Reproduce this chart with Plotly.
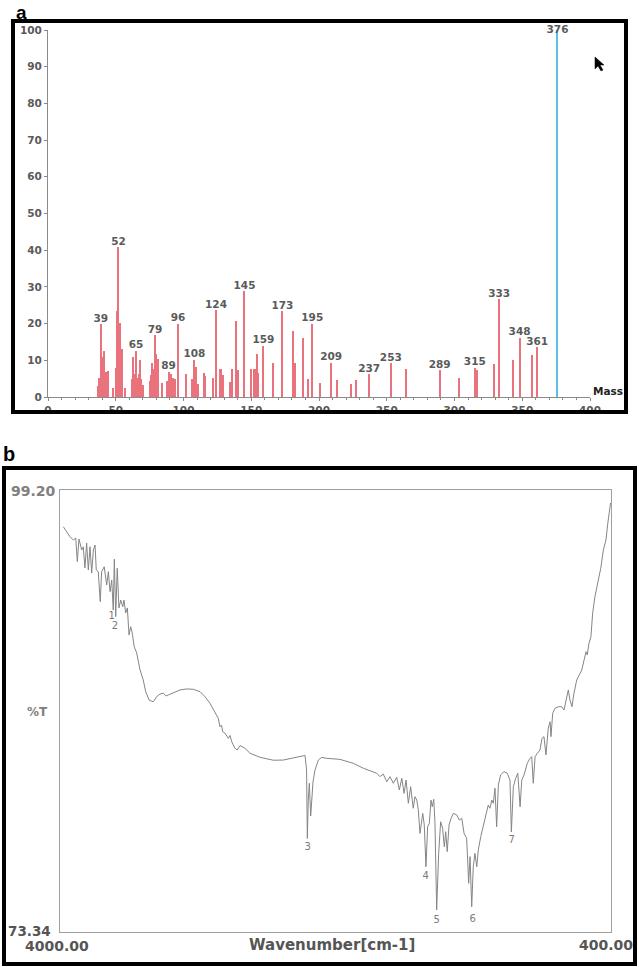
import plotly.graph_objects as go

W, H = 639, 967

# ---------------- Panel a : mass spectrum ----------------
ms_mass = [37, 38, 39, 40, 41, 42, 43, 44, 48, 50, 51, 52, 53, 54, 55, 57,
           62, 63, 64, 65, 66, 67, 68, 69, 70, 75, 76, 77, 78, 79, 80, 81,
           84, 88, 89, 91, 92, 94, 96, 102, 106, 108, 109, 111, 115, 116,
           122, 124, 127, 128, 129, 134, 136, 139, 140, 145, 150, 152, 153,
           154, 155, 159, 166, 173, 181, 182, 188, 192, 195, 201, 209, 213,
           224, 227, 237, 253, 264, 289, 303, 315, 317, 329, 333, 343, 348,
           357, 361]
ms_int = [2.9, 5.3, 19.8, 11.0, 12.4, 6.2, 6.8, 7.0, 2.5, 7.8, 23.3, 40.8, 20.1,
          6.0, 13.1, 2.5, 4.8, 11.0, 6.3, 12.5, 5.3, 6.2, 10.2, 4.9, 3.4, 4.3,
          6.0, 9.2, 7.7, 16.8, 11.6, 10.4, 3.8, 4.4, 6.8, 6.2, 5.2, 5.0, 19.9,
          6.4, 5.0, 10.2, 8.3, 3.6, 6.5, 5.6, 5.3, 23.6, 7.7, 7.7, 5.9, 4.1,
          7.7, 20.6, 7.4, 28.8, 7.5, 7.7, 7.7, 11.8, 6.6, 14.0, 9.2, 23.3, 18.1,
          9.2, 16.2, 4.8, 20.0, 3.8, 9.4, 4.5, 3.6, 4.5, 6.2, 9.2, 7.5, 7.3,
          5.1, 8.0, 7.3, 9.1, 26.6, 10.0, 16.1, 11.5, 13.5]
base_mass = [376]
base_int = [100]
label_mass = [39, 52, 65, 79, 89, 96, 108, 124, 145, 159, 173, 195, 209,
              237, 253, 289, 315, 333, 348, 361]
ms_x_ticks = [0, 50, 100, 150, 200, 250, 300, 350, 400]
ms_y_ticks = [0, 10, 20, 30, 40, 50, 60, 70, 80, 90, 100]

# ---------------- Panel b : IR spectrum ----------------
ir_wn = [3978, 3956, 3935, 3913, 3897, 3887, 3876, 3858, 3848, 3837, 3826, 3815,
         3804, 3793, 3782, 3771, 3763, 3750, 3737, 3728, 3711, 3695, 3684, 3673,
         3662, 3652, 3645, 3636, 3626, 3615, 3603, 3590, 3582, 3571, 3560, 3549,
         3538, 3528, 3515, 3499, 3477, 3456, 3440, 3418, 3390, 3368, 3347, 3325,
         3307, 3292, 3260, 3216, 3172, 3129, 3085, 3053, 3020, 2987, 2966, 2955,
         2945, 2937, 2922, 2900, 2889, 2878, 2857, 2842, 2824, 2791, 2759, 2693,
         2606, 2541, 2476, 2432, 2399, 2389, 2384, 2378, 2371, 2362, 2355, 2347,
         2334, 2312, 2290, 2257, 2171, 2084, 2018, 1975, 1931, 1909, 1888, 1865,
         1844, 1822, 1800, 1783, 1767, 1752, 1739, 1724, 1709, 1692, 1681, 1669,
         1659, 1648, 1630, 1620, 1609, 1598, 1587, 1576, 1568, 1558, 1550, 1539,
         1526, 1513, 1500, 1489, 1480, 1470, 1458, 1445, 1430, 1408, 1391, 1375,
         1360, 1343, 1330, 1321, 1310, 1300, 1289, 1277, 1267, 1251, 1238, 1223,
         1212, 1202, 1191, 1179, 1169, 1158, 1147, 1136, 1121, 1099, 1078, 1060,
         1051, 1038, 1023, 1009, 994, 983, 968, 947, 929, 918, 908, 896, 881,
         864, 851, 838, 825, 810, 798, 792, 781, 766, 744, 722, 707, 694, 679,
         668, 655, 642, 624, 602, 591, 576, 563, 555, 544, 531, 520, 505, 483,
         467, 450, 433, 421, 411, 403]
ir_t = [97.05, 96.76, 96.47, 96.27, 96.39, 95.01, 96.33, 95.69, 95.88, 94.64,
        96.10, 94.52, 95.88, 94.34, 95.69, 95.98, 94.52, 94.42, 92.67, 94.42,
        94.71, 93.64, 94.42, 93.25, 93.93, 92.18, 95.15, 91.79, 94.62, 92.30,
        92.76, 92.37, 92.76, 92.00, 92.30, 90.72, 91.20, 90.83, 90.03, 89.66,
        88.67, 88.08, 87.40, 86.91, 86.81, 87.11, 87.26, 87.31, 87.15, 87.21,
        87.34, 87.50, 87.56, 87.54, 87.40, 87.11, 86.72, 86.23, 85.84, 85.35,
        85.45, 85.06, 84.97, 84.67, 84.84, 84.47, 84.09, 83.99, 84.25, 84.09,
        83.80, 83.56, 83.39, 83.40, 83.54, 83.61, 83.67, 82.82, 78.81, 81.06,
        82.04, 80.13, 81.06, 82.12, 82.82, 83.40, 83.56, 83.50, 83.44, 83.21,
        82.92, 82.76, 82.63, 82.43, 82.58, 82.13, 82.43, 82.04, 82.39, 81.65,
        82.33, 81.45, 82.23, 80.87, 81.84, 80.58, 81.26, 81.06, 80.48, 79.11,
        80.28, 79.60, 77.16, 79.50, 79.70, 81.06, 80.67, 81.10, 79.70, 74.63,
        77.94, 79.79, 79.41, 78.33, 79.21, 78.04, 79.60, 79.99, 80.28, 80.19,
        79.89, 79.99, 79.11, 78.82, 76.19, 77.75, 74.82, 77.16, 77.94, 77.16,
        78.14, 78.92, 79.41, 80.09, 80.48, 80.77, 80.58, 81.06, 80.87, 81.75,
        79.50, 81.94, 82.53, 82.72, 82.63, 82.23, 79.19, 81.84, 82.33, 82.63,
        80.67, 82.23, 82.53, 83.21, 83.50, 83.60, 82.04, 83.60, 83.80, 83.99,
        84.67, 84.77, 83.70, 85.26, 85.64, 84.77, 86.14, 86.43, 86.52, 86.52,
        86.33, 86.91, 87.50, 86.91, 86.52, 87.31, 88.08, 88.48, 88.67, 89.25,
        89.74, 89.55, 90.23, 90.62, 91.99, 92.96, 93.93, 94.62, 95.69, 96.27,
        97.25, 97.93, 98.44]
ir_label_text = ["1", "2", "3", "4", "5", "6", "7"]
ir_label_wn = [3662, 3641, 2382, 1611, 1539, 1304, 1049]
ir_label_t = [91.79, 91.24, 78.27, 76.58, 74.04, 74.08, 78.68]
ir_range_x = [4000.00, 400.00]
ir_range_t = [73.34, 99.20]


def px(x):
    return x / W


def py(y):
    return 1 - y / H


lookup = dict(zip(ms_mass, ms_int))
label_int = [lookup[m] for m in label_mass]

RED = "#e9727c"
BLUE = "#5bc0e2"
TXT = "#5a5a5a"
MONO = "DejaVu Sans"

fig = go.Figure()

fig.add_trace(go.Bar(x=ms_mass, y=ms_int, width=0.8, marker_color=RED,
                     marker_line_width=0, xaxis="x", yaxis="y",
                     showlegend=False, hoverinfo="x+y"))
fig.add_trace(go.Bar(x=base_mass, y=base_int, width=0.9, marker_color=BLUE,
                     marker_line_width=0, xaxis="x", yaxis="y",
                     showlegend=False))
fig.add_trace(go.Scatter(x=label_mass, y=label_int,
                         text=[str(m) for m in label_mass], mode="text",
                         textposition="top center", cliponaxis=False,
                         textfont=dict(family=MONO, size=10.5, color=TXT, weight="bold"),
                         xaxis="x", yaxis="y", showlegend=False))
fig.add_trace(go.Scatter(x=base_mass, y=base_int,
                         text=[str(m) for m in base_mass], mode="text",
                         textposition="middle center", cliponaxis=False,
                         textfont=dict(family=MONO, size=10.5, color=TXT, weight="bold"),
                         xaxis="x", yaxis="y", showlegend=False))

fig.add_trace(go.Scatter(x=ir_wn, y=ir_t, mode="lines",
                         line=dict(color="#858585", width=1),
                         xaxis="x2", yaxis="y2", showlegend=False))
fig.add_trace(go.Scatter(x=ir_label_wn, y=ir_label_t, text=ir_label_text,
                         mode="text", cliponaxis=False,
                         textfont=dict(family="DejaVu Sans", size=10, color="#7a7a7a"),
                         xaxis="x2", yaxis="y2", showlegend=False))

axis_common = dict(showgrid=False, zeroline=False, automargin=False)
fig.update_layout(
    width=W, height=H,
    margin=dict(l=0, r=0, t=0, b=0, pad=0, autoexpand=False),
    showlegend=False,
    paper_bgcolor="white", plot_bgcolor="white",
    bargap=0, barmode="overlay",
    xaxis=dict(domain=[px(48), px(590)], range=[0, 400], anchor="y",
               tickvals=ms_x_ticks, ticks="outside", ticklen=3, tickcolor="#888",
               showline=True, linecolor="#8a8a8a", linewidth=1,
               minor=dict(dtick=10, ticks="outside", ticklen=2, tickcolor="#888"),
               tickfont=dict(family=MONO, size=10.5, color=TXT, weight="bold"),
               **axis_common),
    yaxis=dict(domain=[py(397), py(30)], range=[0, 100], anchor="x",
               tickvals=ms_y_ticks, ticks="outside", ticklen=3, tickcolor="#888",
               showline=True, linecolor="#8a8a8a", linewidth=1,
               tickfont=dict(family=MONO, size=10.5, color=TXT, weight="bold"),
               **axis_common),
    xaxis2=dict(domain=[px(60), px(611)], range=ir_range_x, anchor="y2",
                showticklabels=False, ticks="", showline=True, mirror=True,
                linecolor="#a0a0a0", linewidth=1, **axis_common),
    yaxis2=dict(domain=[py(932), py(490)], range=ir_range_t, anchor="x2",
                showticklabels=False, ticks="", showline=True, mirror=True,
                linecolor="#a0a0a0", linewidth=1, **axis_common),
)

shapes = [
    dict(type="rect", xref="paper", yref="paper", x0=px(13), x1=px(626),
         y0=py(412), y1=py(21), line=dict(color="black", width=4)),
    dict(type="rect", xref="paper", yref="paper", x0=px(4), x1=px(635),
         y0=py(964), y1=py(468), line=dict(color="black", width=4)),
]
cursor = [(595, 57), (595, 69), (598, 66), (601, 71), (603, 70), (600, 65), (604, 65)]
path = "M " + " L ".join(f"{px(a):.5f},{py(b):.5f}" for a, b in cursor) + " Z"
shapes.append(dict(type="path", xref="paper", yref="paper", path=path,
                   fillcolor="black", line=dict(color="black", width=0.5)))
fig.update_layout(shapes=shapes)


def ann(text, x, y, size, color, family="DejaVu Sans", weight="bold",
        xanchor="center", yanchor="middle"):
    return dict(text=text, x=px(x), y=py(y), xref="paper", yref="paper",
                showarrow=False, xanchor=xanchor, yanchor=yanchor,
                font=dict(family=family, size=size, color=color, weight=weight))


fig.update_layout(annotations=[
    ann("a", 21, 0, 19, "black", family="Liberation Sans", yanchor="top"),
    ann("b", 9, 454, 20, "black", family="Liberation Sans"),
    ann("Mass", 608, 391, 10.5, "#222", family=MONO),
    ann("99.20", 33, 491, 14, "#808080"),
    ann("%T", 37, 712, 12, "#808080"),
    ann("73.34", 29, 931, 13.5, "#555"),
    ann("4000.00", 57, 946, 14, "#555"),
    ann("Wavenumber[cm-1]", 332, 945, 15, "#555"),
    ann("400.00", 606, 945, 14, "#555"),
])

fig.write_html("out.html", config={"displayModeBar": False},
               post_script="document.body.style.margin='0px';")
